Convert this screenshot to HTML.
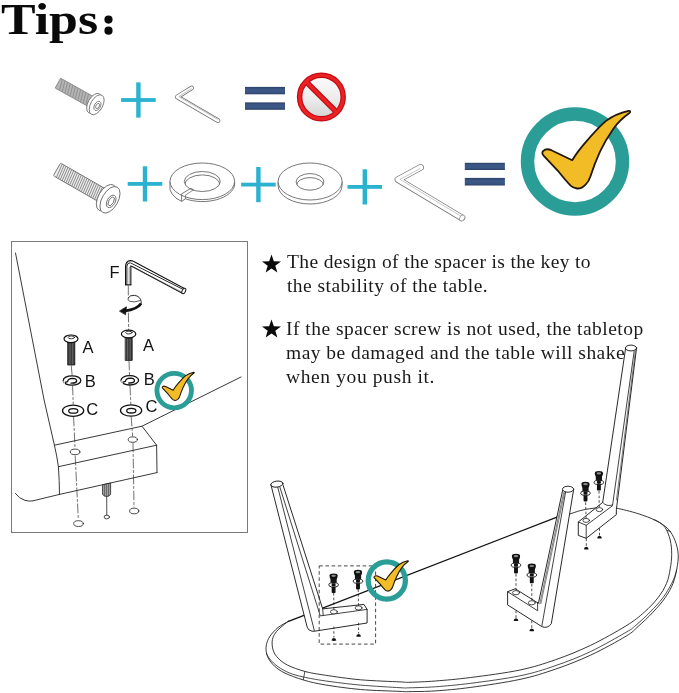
<!DOCTYPE html>
<html>
<head>
<meta charset="utf-8">
<title>Tips</title>
<style>
html,body{margin:0;padding:0;background:#fff;}
body{width:679px;height:693px;position:relative;overflow:hidden;font-family:"Liberation Serif",serif;color:#111;}
#title{position:absolute;left:1px;top:-3.5px;font:bold 45px/1 "Liberation Serif",serif;color:#0a0a0a;white-space:nowrap;transform:scaleX(1.153);transform-origin:0 0;}
.t{position:absolute;left:287px;font:19.5px/24px "Liberation Serif",serif;color:#1a1a1a;white-space:nowrap;letter-spacing:0.33px;will-change:transform;}
svg{position:absolute;left:0;top:0;will-change:transform;}
.lb{font-family:"Liberation Sans",sans-serif;font-size:16.5px;fill:#111;}
</style>
</head>
<body>
<div id="title">Tips</div>

<div class="t" id="l1" style="top:250px;letter-spacing:0.36px">The design of the spacer is the key to</div>
<div class="t" id="l2" style="top:274px;left:286.5px;letter-spacing:0.45px">the stability of the table.</div>
<div class="t" id="l3" style="top:317px;left:286px;letter-spacing:0.475px">If the spacer screw is not used, the tabletop</div>
<div class="t" id="l4" style="top:341.2px;left:286.2px;letter-spacing:0.46px">may be damaged and the table will shake</div>
<div class="t" id="l5" style="top:365px;left:285.7px;letter-spacing:0.61px">when you push it.</div>

<svg id="art" width="679" height="693" viewBox="0 0 679 693">
<defs>
  <path id="star" d="M0,-10 L2.35,-3.24 L9.51,-3.09 L3.8,1.24 L5.88,8.09 L0,4 L-5.88,8.09 L-3.8,1.24 L-9.51,-3.09 L-2.35,-3.24 Z"/>
  <g id="plus"><rect x="-17.3" y="-1.9" width="34.6" height="3.8"/><rect x="-2.2" y="-17.6" width="4.4" height="35.2"/></g>
  <linearGradient id="pg" x1="0" y1="0" x2="0" y2="1"><stop offset="0" stop-color="#fbfbfb"/><stop offset="0.55" stop-color="#ececec"/><stop offset="1" stop-color="#d4d4d4"/></linearGradient>
  <circle id="ring" cx="575" cy="161.5" r="47.5" fill="none" stroke="#2a9d96" stroke-width="13.4"/>
  <path id="chk" d="M543.4,150.8 C545.4,148.8 548.6,149 551.4,150.2 L572.2,160.3 C576,154 581,147.6 586.6,141.2 C593,133.6 599,127 605.7,121.1 C612,116.4 619,113 628.6,110.9 C630.4,110.7 630.8,112 629.4,113 C623,117.6 617.6,122.8 613.4,128.7 C608,136.4 603.6,144 600,151.7 C596,160.4 593,168.4 590.4,176.6 C589.4,180 588,182.4 585.6,184.6 C583,187.4 580,188.7 577,188.5 C574.6,188.3 572.6,187.4 570.6,185.6 C566,181 562,176 557.9,170.8 L543.6,155.6 C542,153.8 541.8,152.2 543.4,150.8 Z" fill="#f2bc27" stroke="#20180a" stroke-linejoin="round"/>
  <linearGradient id="eqg" x1="0" y1="0" x2="0" y2="1"><stop offset="0" stop-color="#2a3f66"/><stop offset="0.3" stop-color="#3b5785"/><stop offset="0.7" stop-color="#3b5785"/><stop offset="1" stop-color="#2a3f66"/></linearGradient>
</defs>

<!-- stars -->
<use href="#star" x="271.5" y="264.5" fill="#0a0a0a"/>
<use href="#star" x="271.5" y="329.5" fill="#0a0a0a"/>

<!-- ROW 1 -->
<g id="row1">
  <!-- colon of title -->
  <circle cx="108.5" cy="19.6" r="4.1" fill="#0a0a0a"/>
  <circle cx="108.5" cy="30.7" r="4.1" fill="#0a0a0a"/>
  <!-- screw 1 -->
  <g transform="translate(57.9,83.1) rotate(29.2)" stroke="#6c6c6c" stroke-width="0.8" fill="none">
    <rect x="0" y="-5.6" width="38.5" height="11.2" fill="#b4b4b4" stroke="#858585"/>
    <path d="M2,-5.5 L5,5.5 M5,-5.5 L8,5.5 M8,-5.5 L11,5.5 M11,-5.5 L14,5.5 M14,-5.5 L17,5.5 M17,-5.5 L20,5.5 M20,-5.5 L23,5.5 M23,-5.5 L26,5.5 M26,-5.5 L29,5.5 M29,-5.5 L32,5.5 M32,-5.5 L35,5.5" stroke="#8c8c8c" stroke-width="0.8"/>
    <ellipse cx="41.5" cy="0" rx="6" ry="10.9" fill="#fff"/>
    <ellipse cx="44.4" cy="0" rx="6" ry="10.9" fill="#fff"/>
    <ellipse cx="45.6" cy="0.6" rx="3" ry="5" />
    <ellipse cx="45.8" cy="0.6" rx="1.6" ry="2.8" />
  </g>
  <!-- allen key 1 -->
  <g fill="none" stroke-linejoin="round" stroke-linecap="round">
    <path d="M191.6,88 L177.2,96.9 L218,120.6" stroke="#747474" stroke-width="4.7"/>
    <path d="M191.6,88 L177.2,96.9 L218,120.6" stroke="#fff" stroke-width="3.1"/>
    <path d="M191.2,88.8 L178.8,96.6 L217.4,119.2" stroke="#9a9a9a" stroke-width="0.6"/>
  </g>
  <!-- prohibition -->
  <circle cx="321.4" cy="97" r="20.5" fill="url(#pg)"/>
  <path d="M305.6,81.2 L337.2,112.8" stroke="#c40c12" stroke-width="5.6"/>
  <circle cx="321.4" cy="97" r="21.8" fill="none" stroke="#c40c12" stroke-width="5.5"/>
  <path d="M305.6,81.2 L337.2,112.8" stroke="#ea2226" stroke-width="3.2"/>
  <circle cx="321.4" cy="97" r="21.8" fill="none" stroke="#ea2226" stroke-width="3.1"/>
  <use href="#plus" x="138.4" y="100" fill="#2ab2cf"/>
  <rect x="245" y="86.9" width="40" height="7.4" fill="url(#eqg)"/>
  <rect x="245" y="102.4" width="40" height="7.4" fill="url(#eqg)"/>
</g>

<!-- ROW 2 -->
<g id="row2">
  <!-- screw 2 -->
  <g transform="translate(56.9,169.4) rotate(29.8)" stroke="#606060" stroke-width="0.8" fill="none">
    <rect x="0" y="-7.3" width="53" height="14.6" rx="1.5" fill="#ececec" stroke="#6a6a6a"/>
    <path id="thr" d="M2,-7.3 L3.6,7.3 M4.2,-7.3 L5.8,7.3 M6.4,-7.3 L8,7.3 M8.6,-7.3 L10.2,7.3 M10.8,-7.3 L12.4,7.3 M13,-7.3 L14.6,7.3 M15.2,-7.3 L16.8,7.3 M17.4,-7.3 L19,7.3 M19.6,-7.3 L21.2,7.3 M21.8,-7.3 L23.4,7.3 M24,-7.3 L25.6,7.3 M26.2,-7.3 L27.8,7.3 M28.4,-7.3 L30,7.3 M30.6,-7.3 L32.2,7.3 M32.8,-7.3 L34.4,7.3 M35,-7.3 L36.6,7.3 M37.2,-7.3 L38.8,7.3 M39.4,-7.3 L41,7.3 M41.6,-7.3 L43.2,7.3 M43.8,-7.3 L45.4,7.3 M46,-7.3 L47.6,7.3 M48.2,-7.3 L49.8,7.3" stroke="#7a7a7a" stroke-width="0.75"/>
    <ellipse cx="57" cy="0" rx="8" ry="14.6" fill="#fff"/>
    <ellipse cx="61.2" cy="0" rx="8" ry="14.6" fill="#fff"/>
    <ellipse cx="63" cy="0.8" rx="4" ry="6.8"/>
    <path d="M60.5,0.8 L61.7,-3.6 L64.3,-3.6 L65.5,0.8 L64.3,5.2 L61.7,5.2 Z"/>
  </g>
  <!-- split washer -->
  <clipPath id="sw"><ellipse cx="202.3" cy="181.5" rx="18" ry="10"/></clipPath>
  <g stroke="#5e5e5e" stroke-width="0.85" fill="none" stroke-linejoin="round">
    <path d="M170,181.3 L170,185 A32.3,18.3 0 0 0 181.6,201.4 L185.4,198.8 A32.3,18.3 0 0 0 234.6,185 L234.6,181.3" fill="#fff"/>
    <ellipse cx="202.3" cy="181.3" rx="32.3" ry="18.3" fill="#fff"/>
    <ellipse cx="202.3" cy="181.5" rx="18" ry="10" fill="#fff"/>
    <ellipse cx="202.3" cy="184.9" rx="17.6" ry="10" clip-path="url(#sw)"/>
    <path d="M191,188.3 L181.6,193.9 L181.6,201.4" />
    <path d="M191,188.3 L193.6,189.9 L185.4,195 L185.4,198.8" stroke-width="0.7"/>
  </g>
  <!-- flat washer -->
  <clipPath id="fw"><ellipse cx="310" cy="181.9" rx="13.9" ry="8.3"/></clipPath>
  <g stroke="#5e5e5e" stroke-width="0.85" fill="none">
    <path d="M278.1,181.5 L278.1,185.5 A32,18.5 0 0 0 342.1,185.5 L342.1,181.5" fill="#fff"/>
    <ellipse cx="310.1" cy="181.5" rx="32" ry="18.5" fill="#fff"/>
    <ellipse cx="310" cy="181.9" rx="13.9" ry="8.3"/>
    <ellipse cx="310" cy="185.6" rx="13.6" ry="8" clip-path="url(#fw)"/>
  </g>
  <!-- allen key 2 -->
  <g fill="none" stroke-linejoin="round" stroke-linecap="round">
    <path d="M420.6,167.4 L398,179.6 L461.8,217.8" stroke="#727272" stroke-width="6.7"/>
    <path d="M420.6,167.4 L398,179.6 L461.8,217.8" stroke="#fff" stroke-width="5.2"/>
    <path d="M420,168.6 L400,179.4 L461,216.2" stroke="#a5a5a5" stroke-width="0.6"/>
    <ellipse cx="462.2" cy="218" rx="2.4" ry="3.3" transform="rotate(31 462.2 218)" stroke="#858585" stroke-width="0.7" fill="#fff"/>
  </g>
  <!-- big check -->
  <use href="#ring"/><use href="#chk" stroke-width="1.8"/>

  <use href="#plus" x="145" y="183.9" fill="#2ab2cf"/>
  <use href="#plus" x="258.4" y="184.6" fill="#2ab2cf"/>
  <use href="#plus" x="364.8" y="186.9" fill="#2ab2cf"/>
  <rect x="464.8" y="162.8" width="40.1" height="7.2" fill="url(#eqg)"/>
  <rect x="464.8" y="177.9" width="40.1" height="7.6" fill="url(#eqg)"/>
</g>

<!-- LEFT BOX -->
<rect x="11.5" y="241.5" width="236" height="291" fill="none" stroke="#7a7a7a" stroke-width="1"/>


<!-- LEFT BOX CONTENT -->
<g id="leftbox" fill="none" stroke="#222" stroke-width="0.9" stroke-linecap="round" stroke-linejoin="round">
  <!-- leg / table left edge -->
  <path d="M15.5,253 L44.1,400 L54.4,445.2 Q57,456 58.4,466.7 Q59.4,480 59.5,494.4"/>
  <!-- bottom-left curve + bottom edge -->
  <path d="M15.4,493.4 Q19,498.6 25,500.4 Q29.4,501.6 33,500.8 L59.5,494.4 L157,472.6"/>
  <!-- block -->
  <path d="M54.4,445.2 L142,426.2 L156.6,445.2 L58.4,466.7"/>
  <path d="M156.6,445.2 L157,472.6"/>
  <!-- table edge to right -->
  <path d="M142,426.2 L241,377"/>
  <!-- dash-dot axes -->
  <path d="M71.3,366 L72.2,376 M72.6,386 L73.2,404 M73.6,417 L75,447 M75.2,456 L78.3,519" stroke-width="0.7" stroke-dasharray="9 2.5 2 2.5" stroke="#333"/>
  <path d="M128.3,286 L128.3,297.4 M128.4,313 L128.6,329.6 M129,361 L129.6,376 M130,386 L130.8,404 M131.2,417 L132.6,436 M133,443 L134,507" stroke-width="0.7" stroke-dasharray="9 2.5 2 2.5" stroke="#333"/>
  <!-- holes -->
  <ellipse cx="75.1" cy="451.9" rx="4.8" ry="2.8" fill="#fff" stroke-width="0.8"/>
  <ellipse cx="132.8" cy="439.6" rx="4.6" ry="2.7" fill="#fff" stroke-width="0.8"/>
  <ellipse cx="78.5" cy="523.6" rx="4.8" ry="2.9" fill="#fff" stroke-width="0.8"/>
  <ellipse cx="134.2" cy="511" rx="4.6" ry="2.8" fill="#fff" stroke-width="0.8"/>
  <ellipse cx="106.8" cy="517" rx="2.7" ry="1.9" fill="#fff" stroke-width="0.8"/>
  <!-- pin -->
  <path d="M106.7,497 L106.8,515" stroke-width="0.8"/>
  <path d="M102.6,485.2 L102.6,494.6 Q106.6,498.4 110.6,494.6 L110.6,483.4 Z" fill="#a8a8a8" stroke="#222" stroke-width="0.8"/>
  <path d="M104.6,485 L104.6,496 M106.6,484.6 L106.6,496.6 M108.6,484 L108.6,496" stroke="#333" stroke-width="0.6"/>
  <!-- C washers -->
  <g stroke="#111" stroke-width="1.3">
    <ellipse cx="73.1" cy="410.7" rx="10.6" ry="5.6" fill="#fff"/>
    <ellipse cx="73.3" cy="410.9" rx="4.6" ry="2.3" fill="#fff"/>
    <ellipse cx="131.1" cy="410.5" rx="10.6" ry="5.6" fill="#fff"/>
    <ellipse cx="131.3" cy="410.7" rx="4.6" ry="2.3" fill="#fff"/>
  </g>
  <!-- B washers -->
  <g stroke="#111" stroke-width="1.3">
    <ellipse cx="72" cy="380.5" rx="8.8" ry="4.7" fill="#fff"/>
    <path d="M64.2,382.6 L67.6,381.6 Q68,378.6 72.6,378.4 Q77.2,378.6 76.6,381.4 Q75.6,383.4 71,383.2" />
    <path d="M64,381 L64.4,385.2" stroke="#fff" stroke-width="1.2"/>
    <ellipse cx="129.8" cy="380.3" rx="8.8" ry="4.7" fill="#fff"/>
    <path d="M122,382.4 L125.4,381.4 Q125.8,378.4 130.4,378.2 Q135,378.4 134.4,381.2 Q133.4,383.2 128.8,383" />
    <path d="M121.8,380.8 L122.2,385" stroke="#fff" stroke-width="1.2"/>
  </g>
  <!-- A screws -->
  <g>
    <rect x="68" y="340" width="6.8" height="25" fill="#3a3a3a" stroke="#111" stroke-width="0.8"/>
    <path d="M70,343 L70,364 M72.6,343 L72.6,364" stroke="#777" stroke-width="0.7"/>
    <ellipse cx="71" cy="338.8" rx="7" ry="3.8" fill="#fff" stroke="#111" stroke-width="1.2"/>
    <ellipse cx="71.3" cy="337.4" rx="3.2" ry="1.4" stroke="#111" stroke-width="0.8"/>
    <rect x="125.6" y="336" width="6.6" height="24.4" fill="#3a3a3a" stroke="#111" stroke-width="0.8"/>
    <path d="M127.6,339 L127.6,359.6 M130.2,339 L130.2,359.6" stroke="#777" stroke-width="0.7"/>
    <ellipse cx="128.6" cy="334" rx="7.2" ry="3.8" fill="#fff" stroke="#111" stroke-width="1.2"/>
    <ellipse cx="128.9" cy="332.6" rx="3.2" ry="1.4" stroke="#111" stroke-width="0.8"/>
  </g>
  <!-- allen key F -->
  <path d="M128.2,285 L128.2,267 Q128.2,261.6 133,264 L183.6,291" stroke="#111" stroke-width="6.4" stroke-linecap="butt"/>
  <path d="M128.2,284.4 L128.2,267 Q128.2,261.6 133,264 L183.2,290.8" stroke="#fff" stroke-width="4.2" stroke-linecap="butt"/>
  <path d="M126.9,284.4 L126.9,266 Q127.2,262.6 130.4,262.8 L184.2,290" stroke="#111" stroke-width="0.9"/>
  <path d="M129.2,284 L129.2,268.4 Q129.4,265.6 132.2,266.6 L182.4,292.4" stroke="#444" stroke-width="0.55"/>
  <ellipse cx="183.8" cy="291" rx="1.7" ry="2.9" transform="rotate(27.7 183.8 291)" fill="#fff" stroke="#111" stroke-width="0.9"/>
  <path d="M125.4,285 L131,285" stroke="#111" stroke-width="0.9"/>
  <!-- rotation arrow -->
  <path d="M128.2,297.8 Q130,295 134.4,295.3 Q140.4,296.2 141.2,301.6 Q141.4,304 140.4,306" stroke="#111" stroke-width="0.9"/>
  <path d="M128.2,297.8 Q127.4,300 129.4,301.2 Q134,303 140,300.6" stroke="#111" stroke-width="0.7"/>
  <path d="M141,303.6 Q137,309.6 125,310.9" stroke="#111" stroke-width="2.7" stroke-linecap="butt"/>
  <path d="M119.8,310.9 L126.4,306.8 L125.6,314.4 Z" fill="#111" stroke="#111" stroke-width="0.8"/>
</g>
<g class="lb" font-family="Liberation Sans, sans-serif">
  <text x="109.6" y="277.8">F</text>
  <text x="82.6" y="352.6">A</text>
  <text x="143" y="350.6">A</text>
  <text x="84.8" y="387.4">B</text>
  <text x="143.8" y="385">B</text>
  <text x="86.2" y="414.6">C</text>
  <text x="145.6" y="412.2">C</text>
</g>
<g transform="translate(174.2,390.6) scale(0.3635) translate(-575,-161.5)"><use href="#ring"/><use href="#chk" stroke-width="3"/></g>

<!-- TABLE DRAWING -->
<g id="table" fill="none" stroke="#222" stroke-width="0.9" stroke-linecap="round" stroke-linejoin="round">
  <path d="M569.2,514.2 C571.1,513.6 576.9,511.5 580.3,510.6 C583.7,509.7 586.5,509.2 589.8,508.7 C593.1,508.2 597.0,507.8 600.0,507.6 C603.0,507.4 605.2,507.4 608.0,507.5 C610.8,507.6 611.7,507.2 616.7,508.2 C621.7,509.2 631.3,511.5 637.9,513.6 C644.5,515.7 651.0,518.1 656.1,520.7 C661.2,523.3 665.1,525.8 668.2,529.1 C671.4,532.4 673.3,536.3 675.0,540.5 C676.7,544.7 677.9,549.7 678.2,554.4 C678.5,559.1 677.7,564.1 676.8,568.9 C675.9,573.7 674.9,578.5 673.0,583.3 C671.1,588.1 668.5,592.9 665.2,597.7 C661.9,602.5 657.5,607.4 653.0,612.2 C648.5,617.0 642.7,622.4 638.2,626.4 C633.7,630.4 633.9,631.4 626.0,636.2 C618.1,641.0 602.5,649.6 590.7,655.1 C578.9,660.6 567.1,665.2 555.3,669.2 C543.5,673.2 534.1,676.4 520.0,679.4 C505.9,682.4 484.8,685.5 470.7,687.4 C456.6,689.3 445.4,690.2 435.3,690.9 C425.2,691.6 415.9,691.5 410.0,691.6 C404.1,691.7 408.2,691.8 400.0,691.4 C391.8,691.0 373.2,690.6 360.7,689.5 C348.2,688.4 334.7,686.5 325.2,684.9 C315.7,683.3 310.2,682.0 303.5,680.0 C296.8,678.0 289.8,675.4 285.0,673.1 C280.2,670.8 277.4,668.7 274.6,666.2 C271.8,663.7 269.7,660.6 268.3,658.1 C266.9,655.6 266.5,653.5 266.2,651.2 C265.9,648.9 265.9,646.8 266.5,644.3 C267.1,641.8 268.1,639.0 270.0,636.2 C271.9,633.4 275.0,630.0 278.1,627.5 C281.2,625.0 286.8,622.3 288.5,621.3"/>
  <path d="M654.0,519.8 C654.6,520.0 655.7,520.0 657.6,521.3 C659.5,522.6 663.1,524.5 665.2,527.6 C667.3,530.7 669.1,535.5 670.2,540.0 C671.3,544.5 671.7,549.6 671.7,554.4 C671.7,559.2 671.1,564.1 670.2,568.9 C669.4,573.7 668.6,578.5 666.6,583.3 C664.6,588.1 661.7,592.9 658.0,597.7 C654.3,602.5 649.6,607.5 644.3,612.2 C639.0,616.9 634.9,620.4 626.0,625.9 C617.1,631.4 602.5,639.6 590.7,645.3 C578.9,650.9 567.1,655.7 555.3,659.8 C543.5,663.9 534.1,667.0 520.0,670.0 C505.9,673.0 484.8,675.7 470.7,677.5 C456.6,679.3 445.4,680.2 435.3,681.0 C425.2,681.8 415.9,682.1 410.0,682.3 C404.1,682.4 408.2,682.3 400.0,681.9 C391.8,681.5 373.2,680.9 360.7,679.8 C348.2,678.7 334.5,676.6 325.2,675.2 C315.9,673.8 311.0,673.1 304.7,671.4 C298.4,669.7 291.7,667.2 287.3,665.0 C282.9,662.8 280.4,660.4 278.1,658.1 C275.8,655.8 274.5,653.7 273.5,651.2 C272.5,648.7 272.1,645.6 272.1,643.1 C272.1,640.6 272.5,638.4 273.5,636.2 C274.5,634.0 276.0,632.0 278.1,629.8 C280.2,627.6 284.5,624.3 286.2,622.9 C287.9,621.5 288.1,621.6 288.5,621.3"/>
  <path d="M676.6,570.0 C676.4,570.8 676.0,572.8 675.2,575.0 C674.4,577.2 673.7,579.5 671.7,583.3 C669.7,587.1 666.6,592.9 663.0,597.7 C659.4,602.5 654.7,607.4 650.0,612.2 C645.3,617.0 638.6,623.0 634.6,626.4 C630.6,629.8 633.3,628.1 626.0,632.3 C618.7,636.5 602.5,645.9 590.7,651.5 C578.9,657.1 567.1,661.7 555.3,665.7 C543.5,669.8 534.1,672.9 520.0,675.8 C505.9,678.7 484.8,681.5 470.7,683.3 C456.6,685.1 445.4,686.0 435.3,686.8 C425.2,687.5 415.9,687.6 410.0,687.8 C404.1,687.9 408.2,688.2 400.0,687.7 C391.8,687.2 373.2,686.2 360.7,685.1 C348.2,684.0 334.7,682.2 325.2,680.9 C315.7,679.5 309.4,678.3 303.5,677.0 C297.6,675.7 293.8,674.7 289.6,673.0 C285.4,671.3 281.4,669.1 278.1,666.8 C274.8,664.5 271.9,661.5 270.0,659.3 C268.1,657.1 267.1,654.5 266.5,653.5" stroke-width="0.8"/>
  <path d="M667.2,530.4 L670.6,531.6 M304.9,671.4 L303.3,679.7" stroke-width="0.8"/>
  <!-- straight edge -->
  <path d="M288.5,621.3 L557,517.1 L569.2,514.2" stroke="#111" stroke-width="1.3"/>

  <!-- LEFT LEG -->
  <path d="M270.9,484.6 L307.2,627.2 Q308.2,630.6 312,631.2 L314.6,631.2 L367.1,623 L367.1,609.4 L363.9,604.4 L322.7,608.9 L282.9,484.6 Z" fill="#fff" stroke="#111"/>
  <ellipse cx="276.9" cy="484.1" rx="6.1" ry="3" transform="rotate(-8 276.9 484.1)" fill="#fff" stroke="#111"/>
  <path d="M277.8,487.4 L314.4,630.8 M279.9,487.2 L320.3,615.9 L367.1,609.4 M322.7,608.9 L323.2,615.5" stroke="#111" stroke-width="0.8"/>
  <ellipse cx="333.9" cy="611.8" rx="3.5" ry="2.1" stroke-width="0.8" fill="#fff"/>
  <ellipse cx="358.6" cy="607.9" rx="3.5" ry="2.1" stroke-width="0.8" fill="#fff"/>

  <!-- MID LEG -->
  <path d="M562.6,490.4 L538.4,603.3 L515.3,588.8 L507.6,591.7 L507.6,604.9 L541.9,626.6 Q547.6,629 551.3,623.7 L573.5,490.4 Z" fill="#fff" stroke="#111"/>
  <ellipse cx="568.1" cy="489.2" rx="5.6" ry="3" fill="#fff" stroke="#111"/>
  <path d="M507.6,591.7 L537.6,610.7 L537.6,602.6 M565.6,492.2 L541.9,625.6" stroke="#111" stroke-width="0.8"/>
  <path d="M563.6,492.6 L539.8,603.8 M564.6,492.6 L540.9,603.6" stroke="#333" stroke-width="0.6"/>
  <ellipse cx="516" cy="592.7" rx="3.5" ry="2.1" stroke-width="0.8" fill="#fff"/>
  <ellipse cx="531.8" cy="602.8" rx="3.5" ry="2.1" stroke-width="0.8" fill="#fff"/>

  <!-- RIGHT LEG -->
  <path d="M625.5,349 L602.7,502.4 L578.3,522 L578.3,535.4 L586.2,538.3 L616.3,514.7 L616.4,509.4 L636.4,349 Z" fill="#fff" stroke="#111"/>
  <ellipse cx="631" cy="348" rx="5.6" ry="2.9" fill="#fff" stroke="#111"/>
  <path d="M578.3,522 L586.2,525.3 L586.2,538.3 M586.2,525.3 L612.4,505.8 M602.7,502.4 Q606.4,507 612.6,505 M634.2,351 L612.6,505" stroke="#111" stroke-width="0.8"/>
  <path d="M635.4,350.8 L616.4,500" stroke="#333" stroke-width="0.6"/>
  <ellipse cx="586.2" cy="520.4" rx="3.3" ry="2" stroke-width="0.8" fill="#fff"/>
  <ellipse cx="599.4" cy="509.6" rx="3.3" ry="2" stroke-width="0.8" fill="#fff"/>

  <!-- dashed axes -->
  <g stroke="#222" stroke-width="0.8" stroke-dasharray="2.6 2" stroke-linecap="butt">
    <path d="M333.7,593 L333.9,610 M358.2,589.4 L358.5,606 M333.9,626.6 L333.9,637.6 M358.6,622.8 L358.6,633.6"/>
    <path d="M516,574 L516,591 M531.8,584 L531.8,601 M516,610.6 L516,618 M531.8,620.6 L531.8,628"/>
    <path d="M585.6,502.4 L586.1,518.6 M599,491 L599.3,508 M586.3,538.6 L586.3,546 M599.5,528.2 L599.5,535.4"/>
  </g>
  <!-- bottom markers -->
  <g fill="#111" stroke="none">
    <path id="mk" d="M-2.4,1.1 Q-2.2,-1.3 0,-1.4 Q2.2,-1.3 2.4,1.1 Q0,1.7 -2.4,1.1 Z" transform="translate(333.9,639.5)"/>
    <use href="#mk" x="24.7" y="-4.1"/>
    <use href="#mk" x="182.1" y="-19.8"/>
    <use href="#mk" x="197.9" y="-9.6"/>
    <use href="#mk" x="252.4" y="-91.4"/>
    <use href="#mk" x="265.6" y="-102.4"/>
  </g>
  <!-- dashed box -->
  <rect x="319.2" y="565.9" width="56.4" height="78.2" stroke="#333" stroke-width="0.9" stroke-dasharray="3.6 2.6" stroke-linecap="butt"/>
</g>
<!-- small screws -->
<defs>
  <g id="scr">
    <rect x="-1.95" y="10" width="3.9" height="9.4" rx="0.8" fill="#111"/>
    <ellipse cx="0" cy="11.2" rx="4.8" ry="2.2" fill="#fff" stroke="#111" stroke-width="0.9"/>
    <path d="M-1.95,9.6 L-1.95,12.4 Q0,13.2 1.95,12.4 L1.95,9.6 Z" fill="#111"/>
    <path d="M-3.1,4.6 L3.1,4.6 L3.1,9 Q0,10.6 -3.1,9 Z" fill="#161616"/>
    <path d="M-4.1,2 Q-4.1,-0.2 0,-0.2 Q4.1,-0.2 4.1,2 Q4.1,4.4 2.8,5.7 L-2.8,5.7 Q-4.1,4.4 -4.1,2 Z" fill="#111"/>
    <ellipse cx="0" cy="2.2" rx="2.3" ry="1.1" fill="#8a8a8a"/>
  </g>
</defs>
<use href="#scr" x="333.6" y="573.6"/>
<use href="#scr" x="358" y="570"/>
<use href="#scr" x="516" y="554"/>
<use href="#scr" x="531.8" y="563.8"/>
<use href="#scr" x="585.5" y="482"/>
<use href="#scr" x="598.9" y="471.2"/>
<g transform="translate(386.8,580.5) scale(0.391) translate(-575,-161.5)"><use href="#ring"/><use href="#chk" stroke-width="2.9"/></g>
<!-- END TABLE -->
</svg>
</body>
</html>
